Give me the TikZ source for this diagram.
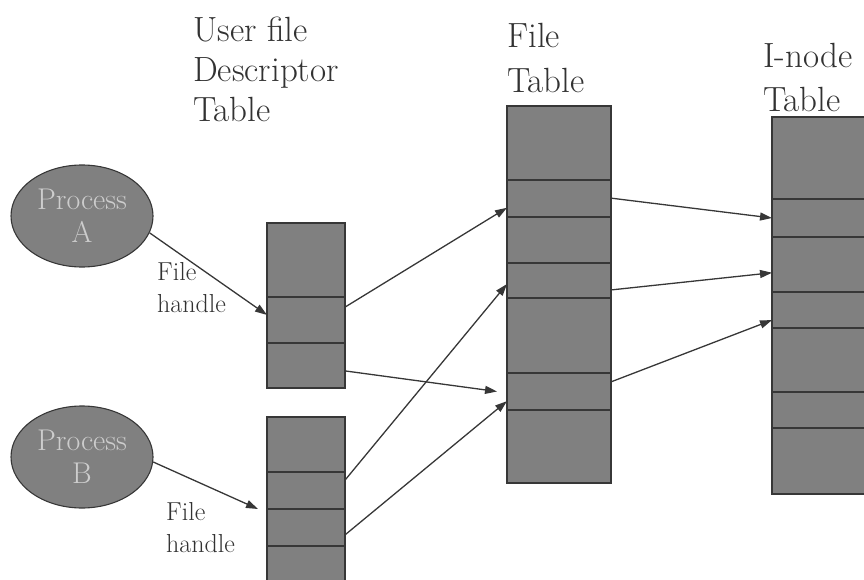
\documentclass[tikz,border=0pt]{standalone}
\usetikzlibrary{arrows.meta,calc,shapes.geometric}
\definecolor{cellfill}{RGB}{128,128,128}
\definecolor{edgecol}{RGB}{55,55,55}
\definecolor{txtcol}{RGB}{50,50,50}
\definecolor{proctxt}{RGB}{205,205,205}
\tikzset{
  cell/.style={draw=edgecol, fill=cellfill, line width=1.2pt, inner sep=0pt, outer sep=0pt, anchor=north west},
  proc/.style={ellipse, draw=edgecol, fill=cellfill, line width=1.1pt, minimum width=142pt, minimum height=102pt, inner sep=0pt, align=center, text=proctxt, font=\rmfamily\fontsize{30}{33}\selectfont},
  header/.style={anchor=base west, align=left, inner sep=0pt, text=txtcol},
  handle/.style={anchor=base west, align=left, inner sep=0pt, text=txtcol, font=\rmfamily\fontsize{26}{32}\selectfont},
  link/.style={draw=edgecol, line width=1.3pt, -{Triangle[length=12pt,width=8pt]}}
}
\newcommand{\mkcell}[5]{\node[cell, minimum width=#4pt-#2pt, minimum height=#5pt-#3pt] (#1) at (#2,#3) {};}
\begin{document}
\begin{tikzpicture}[x=1pt,y=-1pt]
\useasboundingbox (0,0) rectangle (864,580);
\clip (0,0) rectangle (864,580);
% headers
\node[header, font=\rmfamily\fontsize{35}{40}\selectfont] (hU) at (193,122) {User file\\Descriptor\\Table};
\node[header, font=\rmfamily\fontsize{35}{45}\selectfont] (hF) at (507,93) {File\\Table};
\node[header, font=\rmfamily\fontsize{35}{44}\selectfont] (hI) at (763,112) {I-node\\Table};
% processes
\node[proc] (pA) at (82,216) {Process\\A};
\node[proc] (pB) at (82,457) {Process\\B};
% file handle labels
\node[handle] (lA) at (157,312) {File\\handle};
\node[handle] (lB) at (166,552) {File\\handle};
% user fd table A
\mkcell{u1}{267}{223}{345}{297}
\mkcell{u2}{267}{297}{345}{343}
\mkcell{u3}{267}{343}{345}{388}
% user fd table B
\mkcell{v1}{267}{417}{345}{472}
\mkcell{v2}{267}{472}{345}{509}
\mkcell{v3}{267}{509}{345}{546}
\mkcell{v4}{267}{546}{345}{595}
% file table
\mkcell{f1}{507}{106}{611}{180}
\mkcell{f2}{507}{180}{611}{217}
\mkcell{f3}{507}{217}{611}{263}
\mkcell{f4}{507}{263}{611}{298}
\mkcell{f5}{507}{298}{611}{373}
\mkcell{f6}{507}{373}{611}{410}
\mkcell{f7}{507}{410}{611}{483}
% inode table
\mkcell{i1}{772}{117}{885}{199}
\mkcell{i2}{772}{199}{885}{237}
\mkcell{i3}{772}{237}{885}{292}
\mkcell{i4}{772}{292}{885}{328}
\mkcell{i5}{772}{328}{885}{392}
\mkcell{i6}{772}{392}{885}{428}
\mkcell{i7}{772}{428}{885}{494}
% connectors
\draw[link] (pA.-14) -- ($(u2.north west)!0.39!(u2.south west)$);
\draw[link] (pB.-4) -- ([xshift=-9pt]v2.south west);
\draw[link] ($(u2.north east)!0.22!(u2.south east)$) -- ($(f2.north west)!0.75!(f2.south west)$);
\draw[link] ($(u3.north east)!0.62!(u3.south east)$) -- ([xshift=-10pt]f6.west);
\draw[link] ($(v2.north east)!0.22!(v2.south east)$) -- ($(f4.north west)!0.6!(f4.south west)$);
\draw[link] ($(v3.north east)!0.7!(v3.south east)$) -- ($(f6.north west)!0.76!(f6.south west)$);
\draw[link] ($(f2.north east)!0.49!(f2.south east)$) -- (i2.west);
\draw[link] ($(f4.north east)!0.77!(f4.south east)$) -- ($(i3.north west)!0.65!(i3.south west)$);
\draw[link] ($(f6.north east)!0.24!(f6.south east)$) -- ($(i4.north west)!0.78!(i4.south west)$);
\end{tikzpicture}
\end{document}
